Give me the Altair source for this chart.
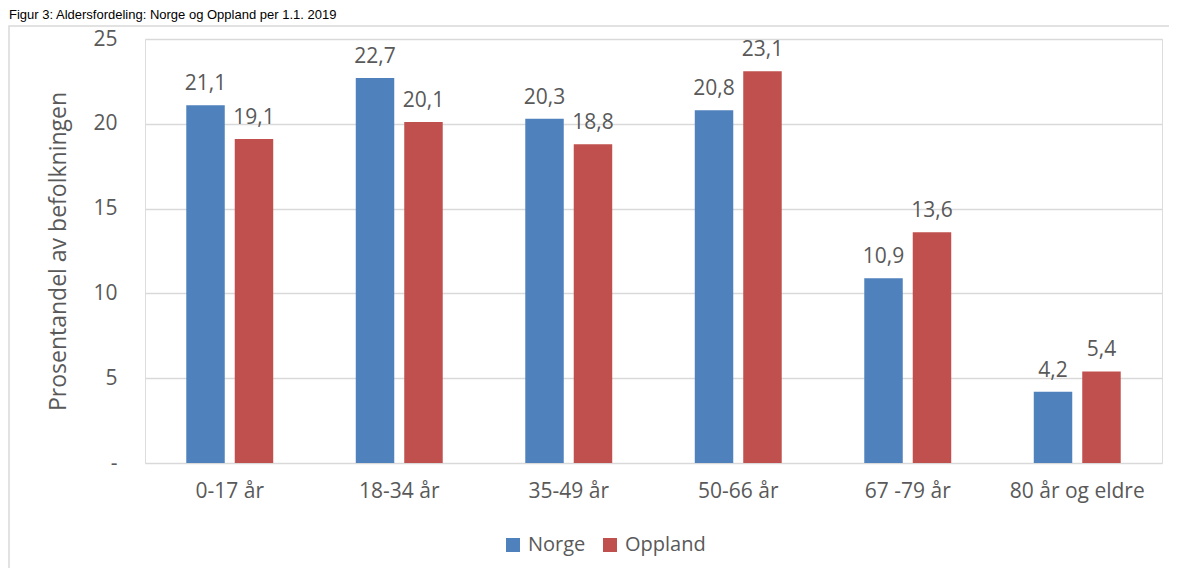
import altair as alt
import pandas as pd

categories = ["0-17 år", "18-34 år", "35-49 år", "50-66 år", "67 -79 år", "80 år og eldre"]
norge = [21.1, 22.7, 20.3, 20.8, 10.9, 4.2]
oppland = [19.1, 20.1, 18.8, 23.1, 13.6, 5.4]
series = ["Norge", "Oppland"]
colors = ["#4f81bd", "#c0504d"]
y_ticks = [0, 5, 10, 15, 20, 25]
title_text = "Figur 3: Aldersfordeling: Norge og Oppland per 1.1. 2019"
y_title = "Prosentandel av befolkningen"

rows = []
for i, c in enumerate(categories):
    rows.append({"kat": c, "serie": "Norge", "v": norge[i]})
    rows.append({"kat": c, "serie": "Oppland", "v": oppland[i]})
df = pd.DataFrame(rows)

FONT = "Open Sans"
GREY = "#595959"

x_enc = alt.X("kat:N", sort=categories, title=None,
              scale=alt.Scale(paddingInner=0.487, paddingOuter=0.2435),
              axis=alt.Axis(labelAngle=0, labelFontSize=21, labelColor=GREY, labelFont=FONT,
                            labelPadding=17, domain=False, ticks=False))
xo_enc = alt.XOffset("serie:N", sort=series, scale=alt.Scale(paddingInner=0.206, paddingOuter=0))
y_enc = alt.Y("v:Q", title=y_title,
              scale=alt.Scale(domain=[0, 25], nice=False),
              axis=alt.Axis(values=y_ticks, labelExpr="datum.value == 0 ? '-' : datum.label",
                            labelFontSize=21, labelColor=GREY, labelFont=FONT, labelPadding=28,
                            domain=False, ticks=False, gridColor="#d9d9d9", gridWidth=1.3,
                            titleFontSize=23, titleFont=FONT, titleColor=GREY, titleFontWeight="normal",
                            titlePadding=22))

base = alt.Chart(df)

bars = base.mark_bar().encode(
    x=x_enc, xOffset=xo_enc, y=y_enc,
    color=alt.Color("serie:N", sort=series, scale=alt.Scale(domain=series, range=colors),
                    legend=alt.Legend(title=None, orient="none", direction="horizontal",
                                      legendX=358, legendY=496, symbolType="square", symbolSize=196,
                                      symbolStrokeWidth=0, labelFontSize=20, labelFont=FONT,
                                      labelColor=GREY, columnPadding=14, labelOffset=5)),
)

labels = base.transform_calculate(
    lab="replace(format(datum.v, '.1f'), '.', ',')"
).mark_text(baseline="bottom", dy=-11, fontSize=21, font=FONT, color=GREY).encode(
    x=alt.X("kat:N", sort=categories), xOffset=alt.XOffset("serie:N", sort=series),
    y="v:Q", text="lab:N",
)

frame = alt.Chart(alt.Data(values=[{}])).mark_rect(fill=None, stroke="#d9d9d9", strokeWidth=1.5).encode(
    x=alt.value(-136), x2=alt.value(1100), y=alt.value(-13), y2=alt.value(600)
)

title = alt.Chart(alt.Data(values=[{}])).mark_text(
    align="left", baseline="top", fontSize=13, font="Liberation Sans", color="#000000"
).encode(x=alt.value(-136), y=alt.value(-30), text=alt.value(title_text))

chart = alt.layer(frame, title, bars, labels).properties(
    width=1017, height=424,
    autosize=alt.AutoSizeParams(type="none"),
    padding={"left": 137, "top": 31, "right": 7, "bottom": 105},
).configure_view(stroke=None).configure(background="white")

chart.save("out.html", embed_options={"renderer": "svg", "actions": False})
